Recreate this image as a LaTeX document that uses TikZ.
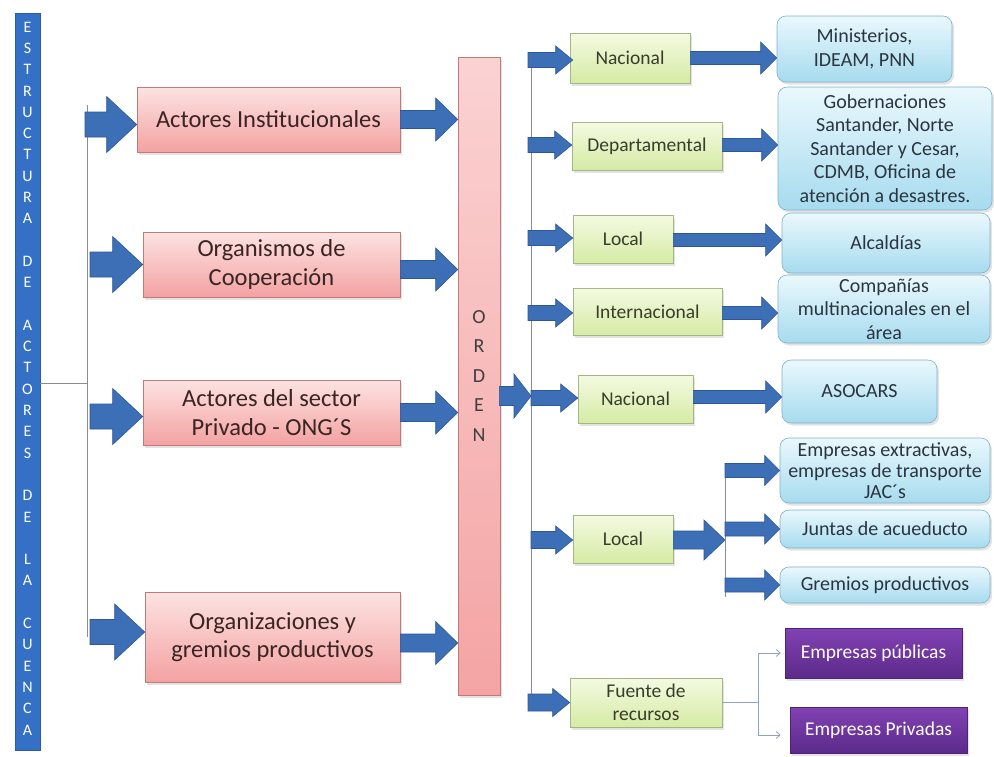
\documentclass[tikz,border=0pt]{standalone}
\usepackage{fontspec}
\setmainfont{Carlito}
\usetikzlibrary{calc,shadows,arrows.meta}

\definecolor{barBlue}{HTML}{3471C6}
\definecolor{barEdge}{HTML}{2A5CA8}
\definecolor{arrFill}{HTML}{3D6FB7}
\definecolor{arrEdge}{HTML}{2C5799}
\definecolor{rTop}{HTML}{FCE3E2}
\definecolor{rBot}{HTML}{F3A2A1}
\definecolor{rEdge}{HTML}{C27A78}
\definecolor{rText}{HTML}{3A2424}
\definecolor{oTop}{HTML}{FBD2D2}
\definecolor{oBot}{HTML}{F4A4A4}
\definecolor{gTop}{HTML}{F4FAE2}
\definecolor{gBot}{HTML}{D5EBA4}
\definecolor{gEdge}{HTML}{A2B784}
\definecolor{gText}{HTML}{3A3C2C}
\definecolor{bTop}{HTML}{EAF8FD}
\definecolor{bBot}{HTML}{A6DBEE}
\definecolor{bEdge}{HTML}{7EB1C8}
\definecolor{bText}{HTML}{2A3540}
\definecolor{pTop}{HTML}{8242B4}
\definecolor{pBot}{HTML}{5C2A8A}
\definecolor{pEdge}{HTML}{4E2476}
\definecolor{lineGray}{HTML}{8C8C8C}
\definecolor{thinBlue}{HTML}{8DA3C4}

% horizontal block arrow: from #1 to the x of #2, half shaft #3, half head #4, head length #5
\newcommand{\blockarrow}[5]{%
  \filldraw[barrow] let \p1=(#1), \p2=(#2) in
    (\x1,{\y1+#3pt}) -- ({\x2-#5pt},{\y1+#3pt}) -- ({\x2-#5pt},{\y1+#4pt})
    -- (\x2,\y1) -- ({\x2-#5pt},{\y1-#4pt}) -- ({\x2-#5pt},{\y1-#3pt})
    -- (\x1,{\y1-#3pt}) -- cycle;}

\begin{document}
\begin{tikzpicture}[x=1pt,y=-1pt,
  softshadow/.style={drop shadow={shadow xshift=2pt,shadow yshift=-2.5pt,opacity=0.22}},
  barrow/.style={fill=arrFill,draw=arrEdge,line width=0.6pt},
  trunk/.style={draw=lineGray,line width=0.8pt},
  rbox/.style={draw=rEdge,line width=0.6pt,top color=rTop,bottom color=rBot,
    text=rText,font=\fontsize{24.5}{28.5}\selectfont,align=center,inner sep=2pt,softshadow},
  obar/.style={draw=rEdge,line width=0.6pt,top color=oTop,bottom color=oBot,
    text=black!75,font=\fontsize{20}{29.5}\selectfont,align=center,inner sep=0pt,softshadow},
  gbox/.style={draw=gEdge,line width=0.6pt,top color=gTop,bottom color=gBot,
    text=gText,font=\fontsize{19.5}{23}\selectfont,align=center,inner sep=2pt,softshadow},
  bbox/.style={draw=bEdge,line width=0.6pt,rounded corners=9pt,top color=bTop,bottom color=bBot,
    text=bText,font=\fontsize{20}{23.5}\selectfont,align=center,inner sep=2pt,softshadow},
  pbox/.style={draw=pEdge,line width=0.6pt,top color=pTop,bottom color=pBot,
    text=white,font=\fontsize{19.5}{23}\selectfont,align=center,inner sep=2pt,softshadow},
  thinarrow/.style={draw=thinBlue,line width=0.8pt,-{Straight Barb[length=4pt,width=7pt]}}
]
\useasboundingbox (0,0) rectangle (994,756);

% ---- left title bar ----
\node[fill=barBlue,draw=barEdge,line width=0.6pt,minimum width=25pt,minimum height=737pt,inner sep=0pt] (bar) at (27.5,381.5) {};
\node[text=white,font=\fontsize{16}{21.3}\selectfont,align=center,inner sep=0pt] (barText) at (27.5,378.5)
  {E\\S\\T\\R\\U\\C\\T\\U\\R\\A\\\mbox{}\\D\\E\\\mbox{}\\A\\C\\T\\O\\R\\E\\S\\\mbox{}\\D\\E\\\mbox{}\\L\\A\\\mbox{}\\C\\U\\E\\N\\C\\A};

% ---- actor boxes ----
\node[rbox,minimum width=263pt,minimum height=65pt] (ra1) at (268.5,119.5) {Actores Institucionales};
\node[rbox,minimum width=257pt,minimum height=65pt] (ra2) at (271.5,264.5) {Organismos de\\Cooperación};
\node[rbox,minimum width=257pt,minimum height=65pt] (ra3) at (271.5,412.5) {Actores del sector\\Privado - ONG´S};
\node[rbox,minimum width=255pt,minimum height=90pt] (ra4) at (272.5,637) {Organizaciones y\\gremios productivos};

% ---- ORDEN bar ----
\node[obar,minimum width=42pt,minimum height=638pt] (orden) at (479,376) {O\\R\\D\\E\\N};

% ---- level boxes ----
\node[gbox,minimum width=120pt,minimum height=50pt] (gn1) at (630,58) {Nacional};
\node[gbox,minimum width=150pt,minimum height=48pt] (gdep) at (647,146) {Departamental};
\node[gbox,minimum width=100pt,minimum height=48pt] (gloc1) at (623,239) {Local};
\node[gbox,minimum width=149pt,minimum height=47pt] (gint) at (647.5,311.5) {Internacional};
\node[gbox,minimum width=115pt,minimum height=48pt] (gn2) at (635.5,399) {Nacional};
\node[gbox,minimum width=100pt,minimum height=48pt] (gloc2) at (623,539) {Local};
\node[gbox,minimum width=152pt,minimum height=49pt] (gfue) at (646,702.5) {Fuente de\\recursos};

% ---- entity boxes ----
\node[bbox,minimum width=175pt,minimum height=66pt] (bmin) at (864.5,49) {Ministerios,\\IDEAM, PNN};
\node[bbox,minimum width=214pt,minimum height=123pt] (bgob) at (885,148.5) {Gobernaciones\\Santander, Norte\\Santander y Cesar,\\CDMB, Oficina de\\atención a desastres.};
\node[bbox,minimum width=208pt,minimum height=60pt] (balc) at (886,243) {Alcaldías};
\node[bbox,minimum width=212pt,minimum height=68pt] (bcom) at (884,309) {Compañías\\multinacionales en el\\área};
\node[bbox,minimum width=155pt,minimum height=63pt] (baso) at (859.5,391.5) {ASOCARS};
\node[bbox,minimum width=210pt,minimum height=65pt,font=\fontsize{20}{21}\selectfont] (bemp) at (885,470.5) {Empresas extractivas,\\empresas de transporte\\JAC´s};
\node[bbox,minimum width=210pt,minimum height=38pt] (bjun) at (885,529) {Juntas de acueducto};
\node[bbox,minimum width=210pt,minimum height=36pt] (bgre) at (885,585) {Gremios productivos};

\node[pbox,minimum width=177pt,minimum height=50pt] (ppub) at (873.5,653) {Empresas públicas};
\node[pbox,minimum width=177pt,minimum height=46pt] (ppri) at (878.5,730) {Empresas Privadas};

% ---- guide lines ----
\coordinate (trunkTop) at (87,105);
\coordinate (trunkBot) at (87,637);
\coordinate (trunkJoin) at (87,383);
\coordinate (lineTop) at (531,58);
\coordinate (lineBot) at (531,707);
\coordinate (splitTop) at (725,467);
\coordinate (splitBot) at (725,597);
\coordinate (fork) at (758,702.5);

\draw[trunk] (bar.east |- trunkJoin) -- (trunkJoin);
\draw[trunk] (trunkTop) -- (trunkBot);
\draw[trunk] (lineTop) -- (lineBot);
\draw[trunk] (splitTop) -- (splitBot);

% ---- block arrows into the actor boxes ----
\blockarrow{$(trunkTop |- ra1.west)+(-2,5)$}{ra1.west}{12.5}{28}{30}
\blockarrow{$(trunkTop |- ra2.west)+(3,0)$}{ra2.west}{12.5}{28}{30}
\blockarrow{$(trunkTop |- ra3.west)+(3,4)$}{ra3.west}{12.5}{28}{30}
\blockarrow{$(trunkTop |- ra4.west)+(3,-5)$}{ra4.west}{12.5}{28}{30}

% ---- block arrows into ORDEN ----
\blockarrow{ra1.east}{orden.west}{9}{21.5}{22}
\blockarrow{$(ra2.east)+(0,5)$}{orden.west}{9}{21.5}{22}
\blockarrow{ra3.east}{orden.west}{9}{21.5}{22}
\blockarrow{$(ra4.east)+(0,6)$}{orden.west}{9}{21.5}{22}

% ---- ORDEN to the level line ----
\blockarrow{$(orden.east |- gn2.west)+(-1,-3)$}{lineTop}{9.5}{22}{17}

% ---- level arrows ----
\blockarrow{$(lineTop |- gn1.west)+(-3,2)$}{$(gn1.west)+(3,0)$}{7.5}{14}{17}
\blockarrow{$(lineTop |- gdep.west)+(-3,-1)$}{gdep.west}{7.5}{14}{17}
\blockarrow{$(lineTop |- gloc1.west)+(-3,-1)$}{gloc1.west}{7.5}{14}{17}
\blockarrow{$(lineTop |- gint.west)+(-3,1.5)$}{gint.west}{7.5}{14}{17}
\blockarrow{$(lineTop |- gn2.west)+(0,-1)$}{gn2.west}{7.5}{14}{17}
\blockarrow{$(lineTop |- gloc2.west)+(0,1)$}{gloc2.west}{8.5}{14}{17}
\blockarrow{$(lineTop |- gfue.west)+(-3,0)$}{gfue.west}{8.5}{14}{17}

% ---- arrows to the entity boxes ----
\blockarrow{gn1.east}{bmin.west}{6.5}{16}{16}
\blockarrow{$(gdep.east)+(0,-1)$}{bgob.west}{6.5}{16}{16}
\blockarrow{$(gloc1.east)+(0,1)$}{balc.west}{6.5}{16}{16}
\blockarrow{$(gint.east)+(0,1.5)$}{bcom.west}{6.5}{16}{16}
\blockarrow{$(gn2.east)+(0,-2)$}{baso.west}{6.5}{16}{16}
\blockarrow{$(gloc2.east)+(0,1)$}{splitTop}{9}{20}{21}
\blockarrow{splitTop |- bemp.west}{bemp.west}{7}{15}{15}
\blockarrow{splitTop |- bjun.west}{bjun.west}{7}{15}{15}
\blockarrow{splitTop |- bgre.west}{bgre.west}{7}{15}{15}

% ---- funding sources ----
\draw[draw=thinBlue,line width=0.8pt] (gfue.east) -- (fork);
\draw[thinarrow] (fork) |- ($(ppub.west)+(-4,0)$);
\draw[thinarrow] (fork) |- ($(ppri.west)+(-9,5)$);

\end{tikzpicture}
\end{document}
